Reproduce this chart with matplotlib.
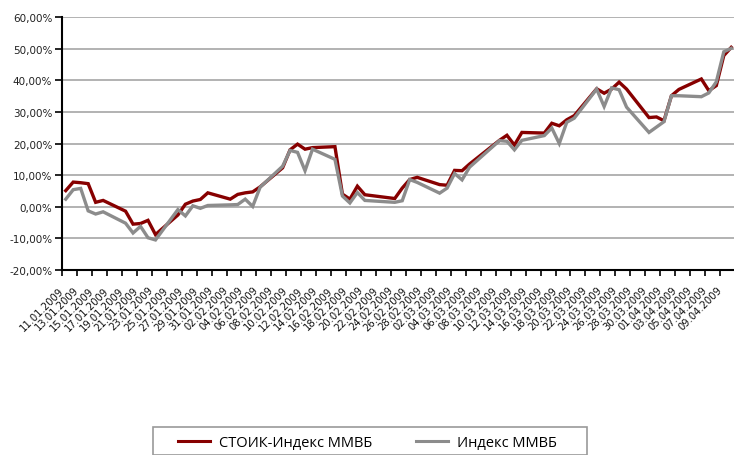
import datetime as dt
import matplotlib as mpl
mpl.use('Agg')
import matplotlib.pyplot as plt
from matplotlib.lines import Line2D
from matplotlib.patches import Rectangle

# trading days (dd.mm, 2009)
dates = ['11.01', '12.01', '13.01', '14.01', '15.01', '16.01', '19.01', '20.01', '21.01', '22.01',
         '23.01', '26.01', '27.01', '28.01', '29.01', '30.01', '02.02', '03.02', '04.02', '05.02',
         '06.02', '09.02', '10.02', '11.02', '12.02', '13.02', '16.02', '17.02', '18.02', '19.02',
         '20.02', '24.02', '25.02', '26.02', '27.02', '02.03', '03.03', '04.03', '05.03', '06.03',
         '10.03', '11.03', '12.03', '13.03', '16.03', '17.03', '18.03', '19.03', '20.03', '23.03',
         '24.03', '25.03', '26.03', '27.03', '30.03', '31.03', '01.04', '02.04', '03.04', '06.04',
         '07.04', '08.04', '09.04', '10.04']

stoik = [5.1, 7.8, 7.6, 7.3, 1.4, 2.0, -1.4, -5.5, -5.3, -4.3,
         -8.8, -2.6, 0.8, 1.8, 2.3, 4.4, 2.4, 3.9, 4.4, 4.7,
         6.3, 12.3, 18.0, 19.8, 18.2, 18.7, 19.0, 4.0, 2.4, 6.5,
         3.8, 2.6, 5.9, 8.6, 9.3, 7.0, 6.8, 11.5, 11.4, 13.5,
         21.0, 22.6, 19.5, 23.5, 23.3, 26.4, 25.6, 27.5, 28.8, 37.3,
         35.9, 37.2, 39.4, 37.2, 28.2, 28.4, 27.2, 35.1, 37.1, 40.4,
         36.7, 38.3, 47.8, 50.4]

micex = [2.4, 5.4, 5.8, -1.3, -2.3, -1.6, -5.2, -8.3, -6.2, -9.8,
         -10.5, -0.9, -2.9, 0.3, -0.5, 0.4, 0.6, 0.7, 2.4, 0.1,
         6.2, 12.8, 17.8, 17.2, 11.4, 18.2, 15.0, 3.4, 1.2, 4.5,
         2.0, 1.4, 1.9, 8.6, 7.7, 4.3, 5.9, 10.5, 8.5, 12.5,
         20.9, 20.7, 18.0, 21.0, 22.5, 24.9, 20.0, 26.7, 28.0, 37.2,
         31.7, 37.6, 37.0, 31.5, 23.5, 25.2, 26.9, 35.1, 35.1, 34.8,
         36.0, 39.5, 49.0, 50.1]

series_names = ['СТОИК-Индекс ММВБ', 'Индекс ММВБ']
colors = ['#870000', '#8C8C8C']

start = dt.date(2009, 1, 11)
def day_of(s):
    d = dt.datetime.strptime(s + '.2009', '%d.%m.%Y').date()
    return (d - start).days

x = [day_of(s) + 0.5 for s in dates]

tick_days = list(range(0, 89, 2))
tick_labels = [(start + dt.timedelta(days=k)).strftime('%d.%m.%Y') for k in tick_days]

fig = plt.figure(figsize=(7.34, 4.56), dpi=100)
ax = fig.add_axes([62 / 734, 1 - 271 / 456, 673 / 734, 253 / 456])

ax.plot(x, stoik, color=colors[0], lw=2.4, solid_joinstyle='miter', zorder=3)
ax.plot(x, micex, color=colors[1], lw=2.4, solid_joinstyle='miter', zorder=4)

ax.set_xlim(0, 90)
ax.set_ylim(-20, 60)
ax.set_yticks(range(-20, 61, 10))
ax.set_yticklabels(['%d,00%%' % v for v in range(-20, 61, 10)], fontsize=7.5, color='#222222')
ax.set_xticks(tick_days)
ax.set_xticklabels(tick_labels, rotation=45, ha='right', va='center',
                   rotation_mode='anchor', fontsize=7.2, color='#111111')
ax.tick_params(axis='x', direction='out', length=4, width=1.2, pad=9)
ax.tick_params(axis='y', direction='out', length=5, width=1.2, pad=2)

ax.grid(axis='y', color='#A6A6A6', lw=1.2)
ax.set_axisbelow(True)
for s in ['top', 'right']:
    ax.spines[s].set_visible(False)
for s in ['left', 'bottom']:
    ax.spines[s].set_linewidth(1.5)
    ax.spines[s].set_zorder(5)

# legend box at the bottom
fig.patches.append(Rectangle((153 / 734, 0), 434 / 734, 1 - 428 / 456,
                             transform=fig.transFigure, facecolor='white',
                             edgecolor='#9A9A9A', lw=1.2))
handles = [Line2D([], [], color=c, lw=2.2) for c in colors]
fig.legend(handles, series_names, loc='center left',
           bbox_to_anchor=(178 / 734, 1 - 444 / 456), ncol=2, frameon=False,
           prop={'family': ['Open Sans', 'DejaVu Sans'], 'size': 10.5},
           handlelength=2.2, handletextpad=0.6, columnspacing=3.0,
           borderpad=0, borderaxespad=0)

fig.savefig('out.png', dpi=100)
